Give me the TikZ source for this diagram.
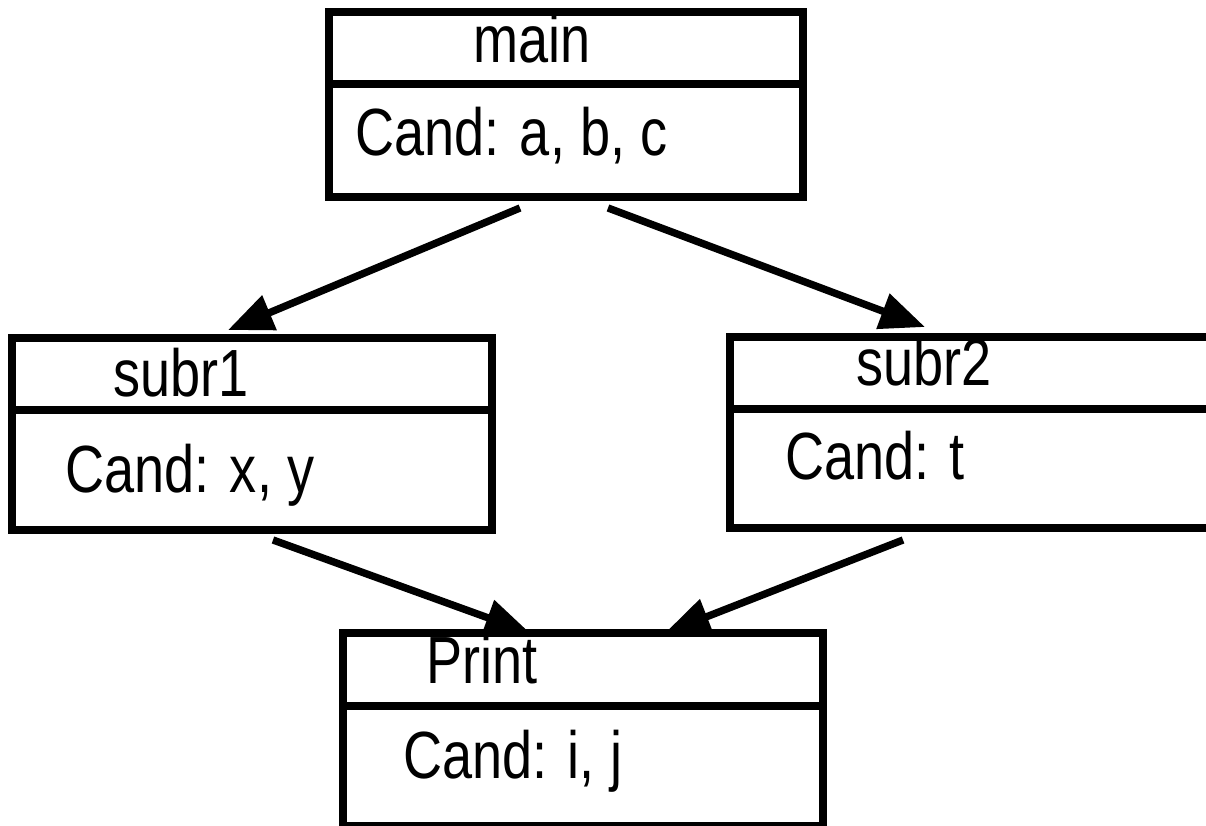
\documentclass[tikz,border=0pt]{standalone}
\usepackage{fontspec}
\setmainfont[FakeStretch=0.81]{Liberation Sans}
\usetikzlibrary{arrows.meta,positioning}

\begin{document}
\begin{tikzpicture}[x=0.02cm,y=-0.02cm,line width=4.2pt,
  frame/.style={draw,rectangle,outer sep=0pt,inner sep=0pt},
  txt/.style={anchor=base west,inner sep=0pt,font=\fontsize{38}{44}\selectfont}]
\useasboundingbox (0,0) rectangle (1206,825);
  \node[frame,minimum width=9.48cm,minimum height=3.7cm]  (main)  at (566,104.5) {};
  \node[frame,minimum width=9.6cm,minimum height=3.84cm]  (subr1) at (252,434)   {};
  \node[frame,minimum width=9.68cm,minimum height=3.82cm] (subr2) at (972,432.5) {};
  \node[frame,minimum width=9.6cm,minimum height=3.86cm]  (print) at (583,729.5) {};

  \draw (main.west |- 0,84)   -- (main.east |- 0,84);
  \draw (subr1.west |- 0,410) -- (subr1.east |- 0,410);
  \draw (subr2.west |- 0,409) -- (subr2.east |- 0,409);
  \draw (print.west |- 0,706) -- (print.east |- 0,706);

  \node[txt] (mainname)  at (470,62)  {main};
  \node[txt] (maincand)  at (352,155) {Cand: a, b, c};
  \node[txt] (subr1name) at (110,396) {subr1};
  \node[txt] (subr1cand) at (62,492)  {Cand: x, y};
  \node[txt] (subr2name) at (853,385) {subr2};
  \node[txt] (subr2cand) at (782,479) {Cand: t};
  \node[txt] (printname) at (423,683) {Print};
  \node[txt] (printcand) at (400,778) {Cand: i, j};

\tikzset{call/.style={-{Triangle[length=0.9cm,width=0.72cm]}}}
\path ([xshift=-0.92cm,yshift=-0.22cm]main.south)  edge [call] ([xshift=-0.48cm,yshift=0.16cm]subr1.north)
      ([xshift=0.84cm,yshift=-0.22cm]main.south)   edge [call] ([xshift=-0.94cm,yshift=0.2cm]subr2.north)
      ([xshift=0.42cm,yshift=-0.2cm]subr1.south)   edge [call] ([xshift=-1.06cm]print.north)
      ([xshift=-1.38cm,yshift=-0.24cm]subr2.south) edge [call] ([xshift=1.64cm]print.north);
\end{tikzpicture}
\end{document}
